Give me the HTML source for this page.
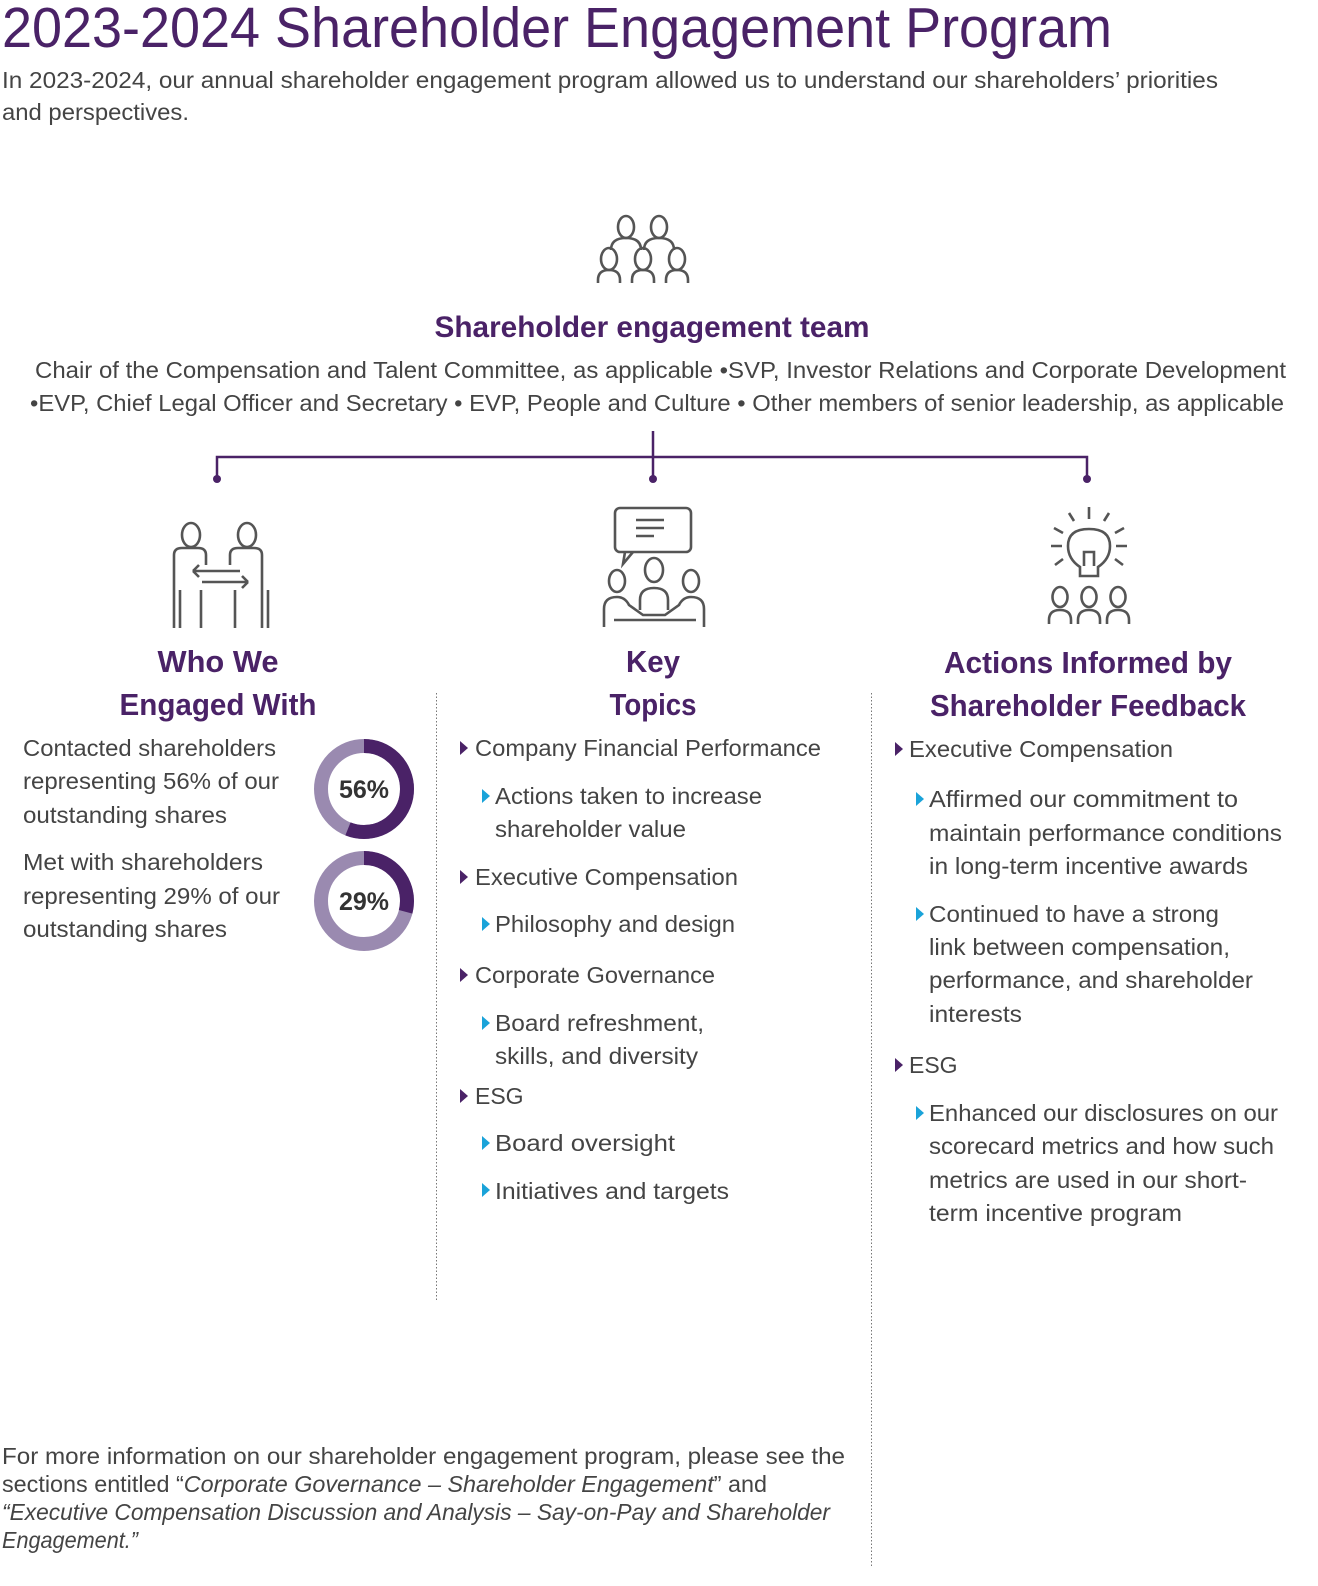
<!DOCTYPE html>
<html><head><meta charset="utf-8"><style>
html,body{margin:0;padding:0;background:#fff;width:1318px;height:1586px;overflow:hidden;}
svg{display:block;}
text{font-family:"Liberation Sans",sans-serif;}
.b{font-size:23px;fill:#444;}
.h{font-size:31px;font-weight:bold;fill:#4a2267;}
</style></head><body>
<svg width="1318" height="1586" viewBox="0 0 1318 1586" xmlns="http://www.w3.org/2000/svg">
<defs>
<path id="tp" d="M0,-7 L8,0 L0,7Z"/>
</defs>
<text x="2" y="47" font-size="57" fill="#4a2267" textLength="1110" lengthAdjust="spacingAndGlyphs">2023-2024 Shareholder Engagement Program</text>
<text class="b" x="2" y="88" textLength="1216" lengthAdjust="spacingAndGlyphs">In 2023-2024, our annual shareholder engagement program allowed us to understand our shareholders’ priorities</text>
<text class="b" x="2" y="120" textLength="187" lengthAdjust="spacingAndGlyphs">and perspectives.</text>

<g fill="none" stroke="#555" stroke-width="2.6">
<ellipse cx="626" cy="227" rx="8" ry="11"/><ellipse cx="659" cy="227" rx="8" ry="11"/>
<path d="M611,250 q0,-12 15,-12 q15,0 15,12"/><path d="M644,250 q0,-12 15,-12 q15,0 15,12"/>
<ellipse cx="609" cy="259" rx="8" ry="11"/><ellipse cx="643" cy="259" rx="8" ry="11"/><ellipse cx="677" cy="259" rx="8" ry="11"/>
<path d="M598,283 v-3 q0,-10 11,-10 q11,0 11,10 v3"/><path d="M632,283 v-3 q0,-10 11,-10 q11,0 11,10 v3"/><path d="M666,283 v-3 q0,-10 11,-10 q11,0 11,10 v3"/>
</g>
<text x="652" y="337" text-anchor="middle" font-size="30" font-weight="bold" fill="#4a2267" textLength="435" lengthAdjust="spacingAndGlyphs">Shareholder engagement team</text>
<text class="b" x="35" y="378" textLength="1251" lengthAdjust="spacingAndGlyphs">Chair of the Compensation and Talent Committee, as applicable •SVP, Investor Relations and Corporate Development</text>
<text class="b" x="30" y="411" textLength="1254" lengthAdjust="spacingAndGlyphs">•EVP, Chief Legal Officer and Secretary • EVP, People and Culture • Other members of senior leadership, as applicable</text>

<g stroke="#4a2267" stroke-width="2.5" fill="none">
<path d="M653,431 V478"/><path d="M217,478 V457 H1087 V478"/>
</g>
<g fill="#4a2267"><circle cx="217" cy="479" r="4"/><circle cx="653" cy="479" r="4"/><circle cx="1087" cy="479" r="4"/></g>

<g fill="none" stroke="#555" stroke-width="2.6">
<ellipse cx="191" cy="535" rx="9" ry="12"/><ellipse cx="247" cy="535" rx="9" ry="12"/>
<path d="M180,628 V590 M174,628 V555 q0,-7 8,-7 h16 q8,0 8,7 v10 M201,628 V590"/>
<path d="M235,628 V590 M262,628 V555 q0,-7 -8,-7 h-16 q-8,0 -8,7 v10 M268,628 V590"/>
<path d="M193,571 H240 M193,571 l6,-6 M193,571 l6,6 M202,582 H248 M248,582 l-6,-6 M248,582 l-6,6"/>
</g>
<g fill="none" stroke="#555" stroke-width="2.6">
<rect x="615" y="508" width="76" height="44" rx="5"/><path d="M625,552 l-2,12 l10,-12"/>
<path d="M636,520 h28 M636,528 h28 M636,536 h18"/>
<ellipse cx="654" cy="570" rx="9" ry="12"/><ellipse cx="617" cy="581" rx="8" ry="11"/><ellipse cx="691" cy="581" rx="8" ry="11"/>
<path d="M604,627 v-18 q0,-12 13,-12 q8,0 12,8 l14,10 h22 l14,-10 q4,-8 12,-8 q13,0 13,12 v18"/>
<path d="M614,620 h82 M640,610 v-10 q0,-12 14,-12 q14,0 14,12 v10"/>
</g>
<g fill="none" stroke="#555" stroke-width="2.6">
<path d="M1089,507 v12 M1069,513 l5,8 M1109,513 l-5,8 M1054,528 l9,5 M1124,528 l-9,5 M1051,546 h11 M1116,546 h11 M1055,565 l8,-6 M1123,565 l-8,-6"/>
<path d="M1080,567 q-12,-8 -12,-21 q0,-17 21,-17 q21,0 21,17 q0,13 -12,21 v9 h-18z M1084,566 v-14 h10 v14"/>
<ellipse cx="1060" cy="597" rx="7.5" ry="10"/><ellipse cx="1089" cy="597" rx="7.5" ry="10"/><ellipse cx="1118" cy="597" rx="7.5" ry="10"/>
<path d="M1049,624 v-4 q0,-10 11,-10 q11,0 11,10 v4 M1078,624 v-4 q0,-10 11,-10 q11,0 11,10 v4 M1107,624 v-4 q0,-10 11,-10 q11,0 11,10 v4"/>
</g>

<text class="h" x="218" y="672" text-anchor="middle" textLength="121" lengthAdjust="spacingAndGlyphs">Who We</text>
<text class="h" x="218" y="715" text-anchor="middle" textLength="197" lengthAdjust="spacingAndGlyphs">Engaged With</text>
<text class="h" x="653" y="672" text-anchor="middle" textLength="54" lengthAdjust="spacingAndGlyphs">Key</text>
<text class="h" x="653" y="715" text-anchor="middle" textLength="87" lengthAdjust="spacingAndGlyphs">Topics</text>
<text class="h" x="1088" y="673" text-anchor="middle" textLength="288" lengthAdjust="spacingAndGlyphs">Actions Informed by</text>
<text class="h" x="1088" y="716" text-anchor="middle" textLength="316" lengthAdjust="spacingAndGlyphs">Shareholder Feedback</text>

<g stroke="#777" stroke-width="1" stroke-dasharray="1.5,2">
<path d="M436.5,693 V1302"/><path d="M871.5,693 V1566"/>
</g>

<text class="b" x="23" y="756" textLength="253" lengthAdjust="spacingAndGlyphs">Contacted shareholders</text>
<text class="b" x="23" y="789" textLength="256" lengthAdjust="spacingAndGlyphs">representing 56% of our</text>
<text class="b" x="23" y="823" textLength="204" lengthAdjust="spacingAndGlyphs">outstanding shares</text>
<text class="b" x="23" y="870" textLength="240" lengthAdjust="spacingAndGlyphs">Met with shareholders</text>
<text class="b" x="23" y="904" textLength="257" lengthAdjust="spacingAndGlyphs">representing 29% of our</text>
<text class="b" x="23" y="937" textLength="204" lengthAdjust="spacingAndGlyphs">outstanding shares</text>
<g fill="none" stroke-width="14">
<circle cx="364" cy="789" r="43" stroke="#9a8ab0"/>
<circle cx="364" cy="789" r="43" stroke="#4a2267" stroke-dasharray="151.3 400" transform="rotate(-90 364 789)"/>
<circle cx="364" cy="901" r="43" stroke="#9a8ab0"/>
<circle cx="364" cy="901" r="43" stroke="#4a2267" stroke-dasharray="78.4 400" transform="rotate(-90 364 901)"/>
</g>
<text x="364" y="798" text-anchor="middle" font-size="25" font-weight="bold" fill="#333">56%</text>
<text x="364" y="910" text-anchor="middle" font-size="25" font-weight="bold" fill="#333">29%</text>

<g fill="#4a2267">
<use href="#tp" x="460" y="748"/><use href="#tp" x="460" y="877"/><use href="#tp" x="460" y="975"/><use href="#tp" x="460" y="1096"/>
<use href="#tp" x="895" y="749"/><use href="#tp" x="895" y="1065"/>
</g>
<g fill="#1aa3d9">
<use href="#tp" x="482" y="796"/><use href="#tp" x="482" y="924"/><use href="#tp" x="482" y="1023"/><use href="#tp" x="482" y="1143"/><use href="#tp" x="482" y="1190"/>
<use href="#tp" x="916" y="799"/><use href="#tp" x="916" y="914"/><use href="#tp" x="916" y="1113"/>
</g>
<text class="b" x="475" y="756" textLength="346" lengthAdjust="spacingAndGlyphs">Company Financial Performance</text>
<text class="b" x="495" y="804" textLength="267" lengthAdjust="spacingAndGlyphs">Actions taken to increase</text>
<text class="b" x="495" y="837" textLength="191" lengthAdjust="spacingAndGlyphs">shareholder value</text>
<text class="b" x="475" y="885" textLength="263" lengthAdjust="spacingAndGlyphs">Executive Compensation</text>
<text class="b" x="495" y="932" textLength="240" lengthAdjust="spacingAndGlyphs">Philosophy and design</text>
<text class="b" x="475" y="983" textLength="240" lengthAdjust="spacingAndGlyphs">Corporate Governance</text>
<text class="b" x="495" y="1031" textLength="209" lengthAdjust="spacingAndGlyphs">Board refreshment,</text>
<text class="b" x="495" y="1064" textLength="203" lengthAdjust="spacingAndGlyphs">skills, and diversity</text>
<text class="b" x="475" y="1104">ESG</text>
<text class="b" x="495" y="1151" textLength="180" lengthAdjust="spacingAndGlyphs">Board oversight</text>
<text class="b" x="495" y="1199" textLength="234" lengthAdjust="spacingAndGlyphs">Initiatives and targets</text>

<text class="b" x="909" y="757" textLength="264" lengthAdjust="spacingAndGlyphs">Executive Compensation</text>
<text class="b" x="929" y="807" textLength="309" lengthAdjust="spacingAndGlyphs">Affirmed our commitment to</text>
<text class="b" x="929" y="841" textLength="353" lengthAdjust="spacingAndGlyphs">maintain performance conditions</text>
<text class="b" x="929" y="874" textLength="319" lengthAdjust="spacingAndGlyphs">in long-term incentive awards</text>
<text class="b" x="929" y="922" textLength="290" lengthAdjust="spacingAndGlyphs">Continued to have a strong</text>
<text class="b" x="929" y="955" textLength="301" lengthAdjust="spacingAndGlyphs">link between compensation,</text>
<text class="b" x="929" y="988" textLength="324" lengthAdjust="spacingAndGlyphs">performance, and shareholder</text>
<text class="b" x="929" y="1022" textLength="93" lengthAdjust="spacingAndGlyphs">interests</text>
<text class="b" x="909" y="1073">ESG</text>
<text class="b" x="929" y="1121" textLength="349" lengthAdjust="spacingAndGlyphs">Enhanced our disclosures on our</text>
<text class="b" x="929" y="1154" textLength="345" lengthAdjust="spacingAndGlyphs">scorecard metrics and how such</text>
<text class="b" x="929" y="1188" textLength="318" lengthAdjust="spacingAndGlyphs">metrics are used in our short-</text>
<text class="b" x="929" y="1221" textLength="253" lengthAdjust="spacingAndGlyphs">term incentive program</text>

<text class="b" x="2" y="1464" textLength="843" lengthAdjust="spacingAndGlyphs">For more information on our shareholder engagement program, please see the</text>
<text class="b" x="2" y="1492" textLength="765" lengthAdjust="spacingAndGlyphs">sections entitled “<tspan font-style="italic">Corporate Governance – Shareholder Engagement</tspan>” and</text>
<text class="b" x="2" y="1520" textLength="828" lengthAdjust="spacingAndGlyphs" font-style="italic">“Executive Compensation Discussion and Analysis – Say-on-Pay and Shareholder</text>
<text class="b" x="2" y="1548" textLength="136" lengthAdjust="spacingAndGlyphs" font-style="italic">Engagement.”</text>
</svg>
</body></html>
